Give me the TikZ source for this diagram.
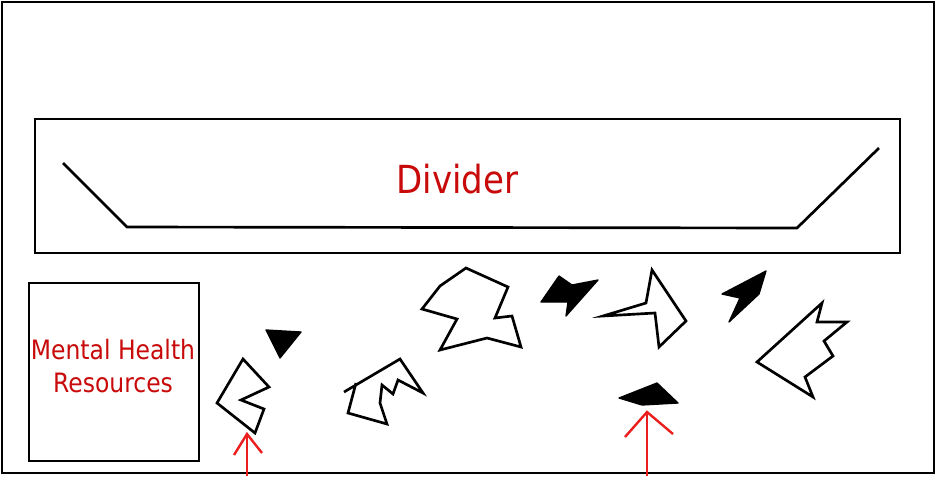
\documentclass[tikz,border=0pt]{standalone}
\usepackage{fontspec}
\setmainfont{DejaVu Sans}[FakeStretch=0.88]
\definecolor{labelred}{RGB}{200,10,10}
\definecolor{arrowred}{RGB}{235,30,30}
\tikzset{
  framebox/.style={draw=black, line width=1.8pt, inner sep=0pt, fill=none},
  outline/.style={draw=black, line width=2pt, line join=miter},
  solidpiece/.style={fill=black, draw=black, line width=1pt, line join=round},
  redarrow/.style={draw=arrowred, line width=1.8pt, line cap=butt},
  bigtext/.style={text=labelred, font=\fontsize{29}{34}\selectfont, inner sep=0pt, anchor=base},
  smalltext/.style={text=labelred, font=\fontsize{20}{24}\selectfont, inner sep=0pt, anchor=base}
}
\begin{document}
\begin{tikzpicture}[x=0.75pt,y=-0.75pt]
\useasboundingbox (0,0) rectangle (936,476);
\fill[white] (0,0) rectangle (936,476);
% outer frame
\node[framebox, minimum width=699pt, minimum height=353.25pt] (frame) at (468,237.5) {};
% divider box
\node[framebox, minimum width=648.75pt, minimum height=100.5pt] (divbox) at (467.5,186) {};
\draw[outline] (63,163) -- (127,227) -- (797,228) -- (879,148);
\node[bigtext] (divlabel) at (457.5,193) {Divider};
% mental health box
\node[framebox, minimum width=127.5pt, minimum height=133.5pt] (mhbox) at (114,372) {};
\node[smalltext] (mh1) at (113,359) {Mental Health};
\node[smalltext] (mh2) at (113,392) {Resources};
% black pieces
\fill[solidpiece] (266,330) -- (301,332) -- (280,358) -- cycle;
\fill[solidpiece] (541,302) -- (559,276) -- (572,285) -- (598,280) -- (566,316) -- (568,302) -- cycle;
\fill[solidpiece] (722,294) -- (766,271) -- (759,294) -- (729,322) -- (740,298) -- cycle;
\fill[solidpiece] (619,398) -- (657,383) -- (678,403) -- (642,405) -- cycle;
% outlined pieces
\draw[outline] (243,359) -- (269,387) -- (241,400) -- (264,409) -- (255,433) -- (217,403) -- cycle;
\draw[outline] (344,392) -- (400,359) -- (423,393) -- (398,380) -- (393,394) -- (382,385) -- (380,403) -- (387,424) -- (348,413) -- (356,383);
\draw[outline] (466,268) -- (508,287) -- (495,318) -- (512,316) -- (521,347) -- (487,338) -- (440,350) -- (457,319) -- (422,309) -- (440,286) -- cycle;
\draw[outline] (652,270) -- (686,321) -- (659,347) -- (655,313) -- (603,316) -- (646,303) -- cycle;
\draw[outline] (822,303) -- (817,322) -- (847,322) -- (824,341) -- (833,356) -- (805,377) -- (813,397) -- (757,362) -- cycle;
% red arrows
\coordinate (a1tip) at (247,434);
\coordinate (a1base) at (247,476);
\coordinate (a1l) at (234,455);
\coordinate (a1r) at (262,453);
\draw[redarrow] (a1base) -- (a1tip);
\draw[redarrow] (a1l) -- (a1tip) -- (a1r);
\coordinate (a2tip) at (647,412);
\coordinate (a2base) at (647,476);
\coordinate (a2l) at (625,437);
\coordinate (a2r) at (673,434);
\draw[redarrow] (a2base) -- (a2tip);
\draw[redarrow] (a2l) -- (a2tip) -- (a2r);
\end{tikzpicture}
\end{document}
